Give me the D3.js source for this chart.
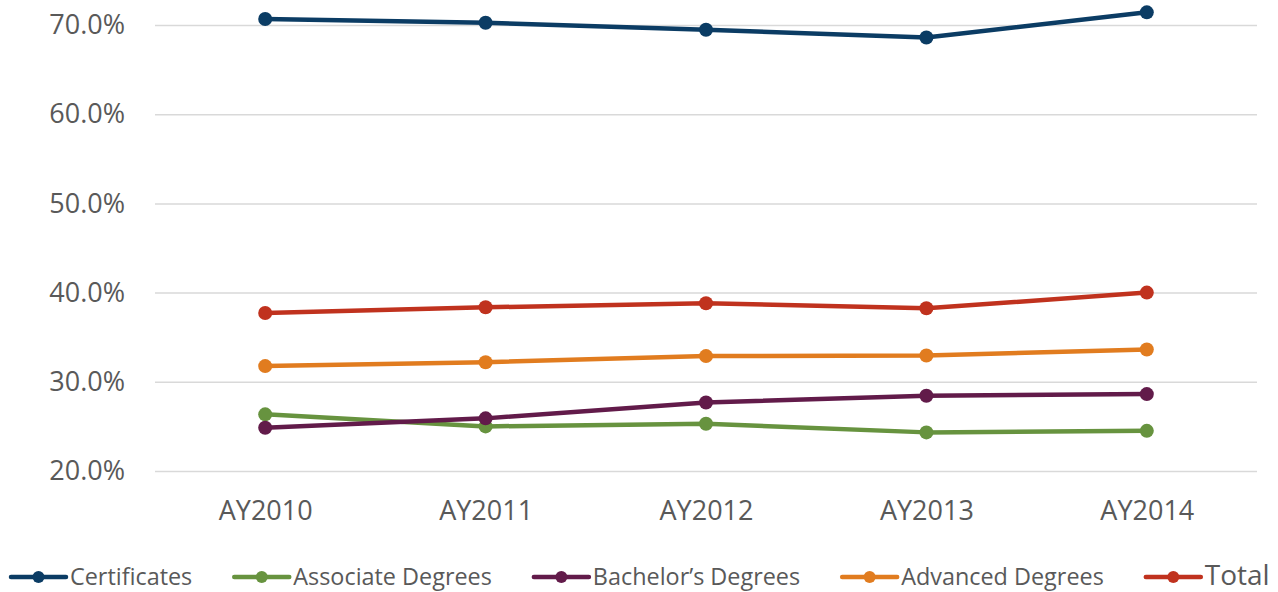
<!DOCTYPE html>
<html>
<head>
<meta charset="utf-8">
<script src="https://cdn.jsdelivr.net/npm/d3@7"></script>
<style>
  body { margin: 0; background: #fff; }
  svg { display: block; font-family: "Open Sans", sans-serif; }
</style>
</head>
<body>
<div id="chart"></div>
<script>
// academic years on the x axis
var years = ["AY2010", "AY2011", "AY2012", "AY2013", "AY2014"];

// percentages
var certificates = [70.67, 70.26, 69.47, 68.6, 71.42];
var associate = [26.35, 25.0, 25.3, 24.33, 24.5];
var bachelors = [24.85, 25.9, 27.68, 28.43, 28.62];
var advanced = [31.76, 32.2, 32.88, 32.95, 33.62];
var total = [37.72, 38.35, 38.8, 38.24, 40.0];

var seriesNames = ["Certificates", "Associate Degrees", "Bachelor\u2019s Degrees", "Advanced Degrees", "Total"];
var seriesColors = ["#0b3c64", "#67933f", "#621b4a", "#e17c1f", "#c0321e"];
var yTicks = [20, 30, 40, 50, 60, 70];

var width = 1278, height = 592;
var margin = {top: 25, right: 21, bottom: 121, left: 155};

var series = [certificates, associate, bachelors, advanced, total].map(function (vals, i) {
    return {name: seriesNames[i], color: seriesColors[i], values: vals};
});

var svg = d3.select("#chart").append("svg")
    .attr("width", width)
    .attr("height", height);

var xScale = d3.scalePoint()
    .domain(years)
    .range([margin.left, width - margin.right])
    .padding(0.5);

var yScale = d3.scaleLinear()
    .domain([20, 70])
    .range([height - margin.bottom, margin.top]);

// gridlines + y labels
var yAxis = svg.append("g")
    .attr("transform", "translate(" + margin.left + ",0)")
    .call(d3.axisLeft(yScale)
        .tickValues(yTicks)
        .tickSize(-(width - margin.left - margin.right))
        .tickPadding(30)
        .tickFormat(function (d) { return d.toFixed(1) + "%"; }));
yAxis.select(".domain").remove();
yAxis.selectAll(".tick line").attr("stroke", "#d9d9d9").attr("stroke-width", 1.5);
yAxis.selectAll(".tick text")
    .attr("fill", "#595959")
    .style("font-size", "27px")
    .style("font-family", "'Open Sans', sans-serif");

// x labels
var xAxis = svg.append("g")
    .attr("transform", "translate(0," + (height - margin.bottom) + ")")
    .call(d3.axisBottom(xScale).tickSize(0).tickPadding(30));
xAxis.select(".domain").remove();
xAxis.selectAll(".tick text")
    .attr("fill", "#595959")
    .style("font-size", "27px")
    .style("font-family", "'Open Sans', sans-serif");

var line = d3.line()
    .x(function (d, i) { return xScale(years[i]); })
    .y(function (d) { return yScale(d); });

var groups = svg.selectAll(".series")
    .data(series)
    .enter().append("g")
    .attr("class", "series");

groups.append("path")
    .attr("d", function (d) { return line(d.values); })
    .attr("fill", "none")
    .attr("stroke", function (d) { return d.color; })
    .attr("stroke-width", 4.5)
    .attr("stroke-linejoin", "round");

groups.selectAll("circle")
    .data(function (d) { return d.values.map(function (v) { return {v: v, color: d.color}; }); })
    .enter().append("circle")
    .attr("cx", function (d, i) { return xScale(years[i]); })
    .attr("cy", function (d) { return yScale(d.v); })
    .attr("r", 7)
    .attr("fill", function (d) { return d.color; });

// legend
var legend = svg.append("g").attr("transform", "translate(11,577)");
var lx = 0;
series.forEach(function (s, i) {
    var item = legend.append("g").attr("transform", "translate(" + lx + ",0)");
    item.append("line")
        .attr("x1", 0).attr("x2", 55)
        .attr("y1", 0).attr("y2", 0)
        .attr("stroke", s.color)
        .attr("stroke-width", 4.5)
        .attr("stroke-linecap", "round");
    item.append("circle")
        .attr("cx", 27.5).attr("cy", 0).attr("r", 6)
        .attr("fill", s.color);
    var t = item.append("text")
        .attr("x", 59)
        .attr("y", i === 4 ? 7.5 : 7.5)
        .attr("fill", "#595959")
        .style("font-size", i === 4 ? "28px" : "23.4px")
        .text(s.name);
    lx += 59 + t.node().getComputedTextLength() + 42;
});
</script>
</body>
</html>
